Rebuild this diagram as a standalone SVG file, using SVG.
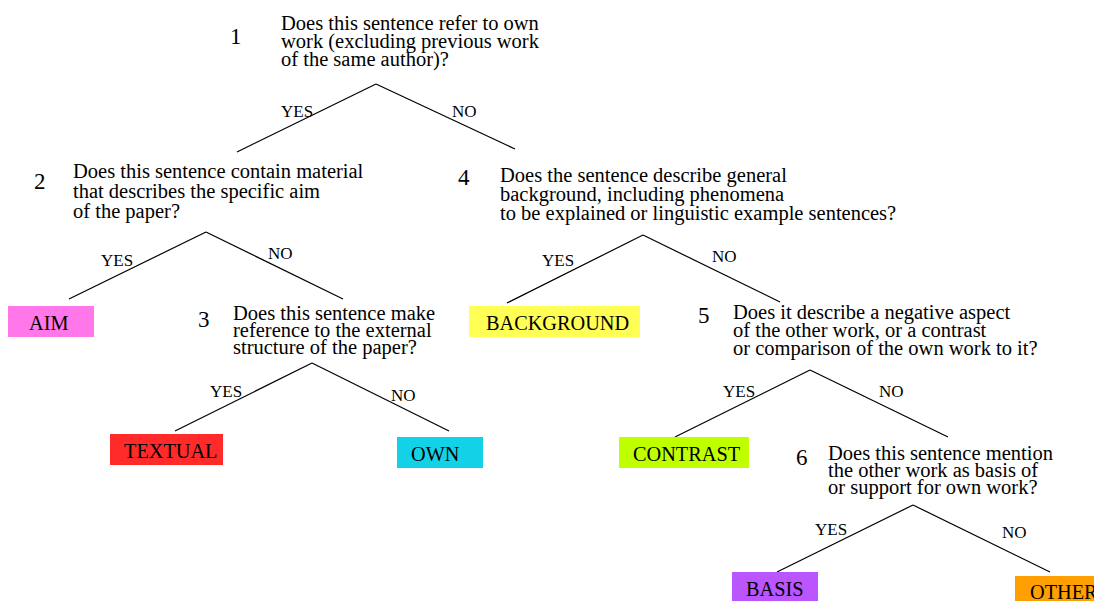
<svg xmlns="http://www.w3.org/2000/svg" width="1094" height="601" viewBox="0 0 1094 601">
<style>
text{font-family:"Liberation Serif","Times New Roman",serif;fill:#000}
.q{font-size:20.5px}
.n{font-size:23px}
.b{font-size:17px}
.l{font-size:20.3px}
.c line{stroke:#000;stroke-width:1.2}
</style>
<rect width="1094" height="601" fill="#fff"/>
<g class="c" id="connectors">
<line x1="376" y1="84" x2="237" y2="152"/>
<line x1="376" y1="84" x2="515" y2="149"/>
<text class="b" x="281" y="117">YES</text>
<text class="b" x="452" y="117">NO</text>
<line x1="206" y1="232" x2="69" y2="299"/>
<line x1="206" y1="232" x2="343" y2="299"/>
<text class="b" x="101" y="266">YES</text>
<text class="b" x="268" y="259">NO</text>
<line x1="312" y1="363" x2="175" y2="431"/>
<line x1="312" y1="363" x2="449" y2="431"/>
<text class="b" x="210" y="397">YES</text>
<text class="b" x="391" y="401">NO</text>
<line x1="643" y1="235" x2="507" y2="303"/>
<line x1="643" y1="235" x2="780" y2="302"/>
<text class="b" x="542" y="266">YES</text>
<text class="b" x="712" y="262">NO</text>
<line x1="810" y1="370" x2="675" y2="437"/>
<line x1="810" y1="370" x2="948" y2="437"/>
<text class="b" x="723" y="397">YES</text>
<text class="b" x="879" y="397">NO</text>
<line x1="913" y1="505" x2="777" y2="572"/>
<line x1="913" y1="505" x2="1050" y2="572"/>
<text class="b" x="815" y="535">YES</text>
<text class="b" x="1002" y="538">NO</text>
</g>
<g id="q1">
<text class="n" x="230" y="44">1</text>
<text class="q" x="281" y="30">Does this sentence refer to own</text>
<text class="q" x="281" y="48">work (excluding previous work</text>
<text class="q" x="281" y="66">of the same author)?</text>
</g>
<g id="q2">
<text class="n" x="34" y="189">2</text>
<text class="q" x="73" y="178">Does this sentence contain material</text>
<text class="q" x="73" y="198">that describes the specific aim</text>
<text class="q" x="73" y="218">of the paper?</text>
</g>
<g id="q3">
<text class="n" x="198" y="327">3</text>
<text class="q" x="233" y="320">Does this sentence make</text>
<text class="q" x="233" y="337">reference to the external</text>
<text class="q" x="233" y="354">structure of the paper?</text>
</g>
<g id="q4">
<text class="n" x="458" y="185">4</text>
<text class="q" x="500" y="182">Does the sentence describe general</text>
<text class="q" x="500" y="201">background, including phenomena</text>
<text class="q" x="500" y="220">to be explained or linguistic example sentences?</text>
</g>
<g id="q5">
<text class="n" x="698" y="323">5</text>
<text class="q" x="733" y="319">Does it describe a negative aspect</text>
<text class="q" x="733" y="337">of the other work, or a contrast</text>
<text class="q" x="733" y="355">or comparison of the own work to it?</text>
</g>
<g id="q6">
<text class="n" x="796" y="465">6</text>
<text class="q" x="828" y="460">Does this sentence mention</text>
<text class="q" x="828" y="477">the other work as basis of</text>
<text class="q" x="828" y="494">or support for own work?</text>
</g>
<g id="aim"><rect x="8" y="306" width="86" height="31" fill="#ff77e8"/><text class="l" x="29" y="330">AIM</text></g>
<g id="textual"><rect x="110" y="434" width="113" height="31" fill="#ff2a2a"/><text class="l" x="124" y="458">TEXTUAL</text></g>
<g id="own"><rect x="397" y="437" width="86" height="31" fill="#13d1e6"/><text class="l" x="411" y="461">OWN</text></g>
<g id="background"><rect x="469" y="306" width="171" height="31" fill="#ffff55"/><text class="l" x="486" y="330">BACKGROUND</text></g>
<g id="contrast"><rect x="619" y="437" width="130" height="31" fill="#bfff00"/><text class="l" x="633" y="461">CONTRAST</text></g>
<g id="basis"><rect x="732" y="572" width="86" height="29" fill="#bb55ff"/><text class="l" x="746" y="596">BASIS</text></g>
<g id="other"><rect x="1015" y="576" width="90" height="25" fill="#ffa000"/><text class="l" x="1030" y="599">OTHER</text></g>
</svg>
